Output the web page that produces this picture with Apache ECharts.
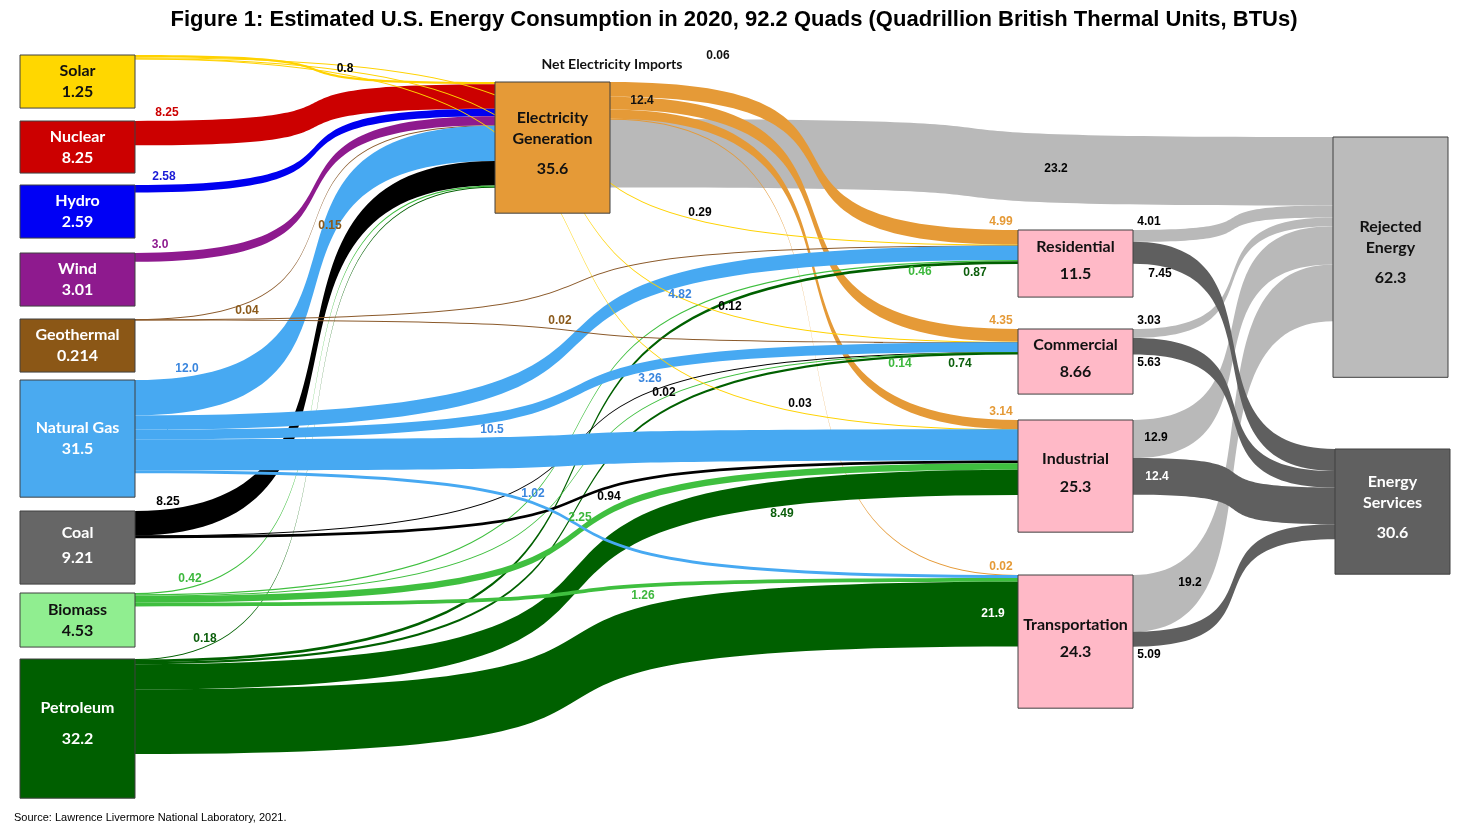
<!DOCTYPE html>
<html><head><meta charset="utf-8">
<script src="https://cdn.jsdelivr.net/npm/echarts@6/dist/echarts.min.js"></script>
<style>html,body{margin:0;padding:0;background:#fff}#c{width:1468px;height:830px}</style>
</head><body><div id="c"></div>
<script>
// ---------------- data (quads) ----------------
const sources = ['Solar','Nuclear','Hydro','Wind','Geothermal','Natural Gas','Coal','Biomass','Petroleum'];
const sourceTotals = [1.25, 8.25, 2.59, 3.01, 0.214, 31.5, 9.21, 4.53, 32.2];
const sectors = ['Residential','Commercial','Industrial','Transportation'];
const sectorTotals = [11.5, 8.66, 25.3, 24.3];
const electricityTotal = 35.6;
const rejectedTotal = 62.3;
const servicesTotal = 30.6;
const netElectricityImports = 0.06;
const electricityDelivered = 12.4;
// source -> electricity generation (same order as sources)
const toElectricity = [0.8, 8.25, 2.58, 3.0, 0.15, 12.0, 8.25, 0.42, 0.18];
// source -> end-use sectors (same order as sources), null = no flow
const toResidential    = [0.29, null, null, null, 0.04, 4.82, null, 0.46, 0.87];
const toCommercial     = [0.12, null, null, null, 0.02, 3.26, 0.02, 0.14, 0.74];
const toIndustrial     = [0.03, null, null, null, null, 10.5, 0.94, 2.25, 8.49];
const toTransportation = [null, null, null, null, null, 1.02, null, 1.26, 21.9];
// electricity generation -> sectors, and -> rejected
const electricityToSectors = [4.99, 4.35, 3.14, 0.02];
const electricityRejected = 23.2;
// sectors -> rejected energy / energy services
const sectorRejected = [4.01, 3.03, 12.9, 19.2];
const sectorServices = [7.45, 5.63, 12.4, 5.09];

// ---------------- layout & style (not data) ----------------
const ELEC = 'Electricity Generation', REJ = 'Rejected Energy', SERV = 'Energy Services';
const TOP = 55, H = 743, LEFT = 20, W = 1430, NODE_W = 115, KY = 2.95, CURV = 0.8;
// box top / height in px
const BOX = {
  'Solar':[55,53], 'Nuclear':[121,52], 'Hydro':[185,53], 'Wind':[253,53], 'Geothermal':[319,53],
  'Natural Gas':[380,117], 'Coal':[511,73], 'Biomass':[593,54], 'Petroleum':[659,139],
  [ELEC]:[82,131],
  'Residential':[230,67], 'Commercial':[329,65], 'Industrial':[420,112], 'Transportation':[575,133],
  [REJ]:[137,240], [SERV]:[449,125]
};
const COL_X = {elec:495, sector:1018};
const SINK_X = {[REJ]:1333, [SERV]:1335};
const kx = (W - NODE_W) / 3;
const STYLE = {
  'Solar':      {fill:'#FFD700', text:'#111', link:'#FFD200', lab:'#000000'},
  'Nuclear':    {fill:'#CC0000', text:'#fff', link:'#CC0000', lab:'#CC0000'},
  'Hydro':      {fill:'#0000F5', text:'#fff', link:'#0000F0', lab:'#1A1AD6'},
  'Wind':       {fill:'#8E1A8E', text:'#fff', link:'#8E1A8E', lab:'#8E1A8E'},
  'Geothermal': {fill:'#8B5716', text:'#fff', link:'#8B5A2B', lab:'#8B5A1B'},
  'Natural Gas':{fill:'#4AAAF0', text:'#fff', link:'#47A9F2', lab:'#3A86DE'},
  'Coal':       {fill:'#666666', text:'#fff', link:'#000000', lab:'#000000'},
  'Biomass':    {fill:'#90EE90', text:'#111', link:'#3FBF3F', lab:'#3DB83D'},
  'Petroleum':  {fill:'#005F00', text:'#fff', link:'#006000', lab:'#0B5E0B'},
  [ELEC]:       {fill:'#E59A37', text:'#111', link:'#E59A37', lab:'#E59A37'},
  'Residential':{fill:'#FFB9C7', text:'#111'}, 'Commercial':{fill:'#FFB9C7', text:'#111'},
  'Industrial': {fill:'#FFB9C7', text:'#111'}, 'Transportation':{fill:'#FFB9C7', text:'#111'},
  [REJ]:        {fill:'#BBBBBB', text:'#111'},
  [SERV]:       {fill:'#606060', text:'#fff'}
};
const REJ_LINK = '#B9B9B9', SERV_LINK = '#5F5F5F';
const DISPLAY = {[ELEC]:'Electricity\nGeneration', [REJ]:'Rejected\nEnergy', [SERV]:'Energy\nServices'};
const VALUE_LINE = {[ELEC]:39, [REJ]:39, [SERV]:39, 'Petroleum':41, 'Coal':29,
  'Residential':34, 'Commercial':34, 'Industrial':34, 'Transportation':34};
// where each flow label sits: x along the flow, and side of the band
const LABEL_AT = {
  'Solar>Electricity Generation':[345,'above'], 'Nuclear>Electricity Generation':[167,'above'],
  'Hydro>Electricity Generation':[164,'above'], 'Wind>Electricity Generation':[160,'above'],
  'Geothermal>Electricity Generation':[314,'right'], 'Natural Gas>Electricity Generation':[187,'above'],
  'Coal>Electricity Generation':[168,'above'], 'Biomass>Electricity Generation':[190,'above'],
  'Petroleum>Electricity Generation':[205,'above'],
  'Solar>Residential':[700,'above'], 'Geothermal>Residential':[247,'above'], 'Natural Gas>Residential':[680,'below'],
  'Biomass>Residential':[920,'below'], 'Petroleum>Residential':[975,'below'],
  'Solar>Commercial':[730,'above'], 'Geothermal>Commercial':[560,'above'], 'Natural Gas>Commercial':[650,'below'],
  'Coal>Commercial':[648,'right'], 'Biomass>Commercial':[900,'below'], 'Petroleum>Commercial':[960,'below'],
  'Solar>Industrial':[800,'above'], 'Natural Gas>Industrial':[492,'above'], 'Coal>Industrial':[609,'below'],
  'Biomass>Industrial':[598,'left'], 'Petroleum>Industrial':[782,'below'],
  'Natural Gas>Transportation':[533,'above'], 'Biomass>Transportation':[643,'below'], 'Petroleum>Transportation':[993,'inside'],
  'Electricity Generation>Residential':[1001,'above'], 'Electricity Generation>Commercial':[1001,'above'],
  'Electricity Generation>Industrial':[1001,'above'], 'Electricity Generation>Transportation':[1001,'above'],
  'Electricity Generation>Rejected Energy':[1056,'inside'],
  'Residential>Rejected Energy':[1149,'above'], 'Commercial>Rejected Energy':[1149,'above'],
  'Industrial>Rejected Energy':[1156,'inside'], 'Transportation>Rejected Energy':[1190,'inside'],
  'Residential>Energy Services':[1160,'below'], 'Commercial>Energy Services':[1149,'below'],
  'Industrial>Energy Services':[1157,'inside'], 'Transportation>Energy Services':[1149,'below']
};

const fmt = v => (Number.isInteger(v) ? v.toFixed(1) : String(v));
const totals = {};
sources.forEach((s,i)=>totals[s]=sourceTotals[i]);
sectors.forEach((s,i)=>totals[s]=sectorTotals[i]);
totals[ELEC]=electricityTotal; totals[REJ]=rejectedTotal; totals[SERV]=servicesTotal;

const depthOf = {};
function makeNode(name, depth) {
  const st = STYLE[name];
  depthOf[name] = depth;
  const item = {
    name, depth,
    value: BOX[name][1] / KY,
    localY: (BOX[name][0] - TOP) / H,
    itemStyle: {color: st.fill},
    label: {color: st.text}
  };
  if (SINK_X[name] != null) item.localX = (SINK_X[name] - LEFT) / W;
  return item;
}
const nodeX = name => SINK_X[name] != null ? SINK_X[name] : LEFT + depthOf[name] * kx;
const dElec = (COL_X.elec - LEFT) / kx, dSector = (COL_X.sector - LEFT) / kx;
const nodes = [];
sources.forEach(s => nodes.push(makeNode(s, 0)));
nodes.push(makeNode(ELEC, dElec));
sectors.forEach(s => nodes.push(makeNode(s, dSector)));
// sinks share the sector grouping so that link stacking follows the reference
nodes.push(makeNode(REJ, dSector));
nodes.push(makeNode(SERV, dSector));

function link(source, target, value, color, labColor) {
  return {source, target, value,
    lineStyle: {color, opacity: 1},
    edgeLabel: {color: labColor}};
}
const links = [];
links.push(link(ELEC, REJ, electricityRejected, REJ_LINK, '#000'));
sectors.forEach((s,i)=>links.push(link(ELEC, s, electricityToSectors[i], STYLE[ELEC].link, STYLE[ELEC].lab)));
sources.forEach((s,i)=>links.push(link(s, ELEC, toElectricity[i], STYLE[s].link, STYLE[s].lab)));
[toResidential, toCommercial, toIndustrial, toTransportation].forEach((arr, k) => {
  sources.forEach((s,i)=>{ if (arr[i] != null) {
    const white = (s === 'Petroleum' && sectors[k] === 'Transportation');
    links.push(link(s, sectors[k], arr[i], STYLE[s].link, white ? '#fff' : STYLE[s].lab));
  }});
});
sectors.forEach((s,i)=>links.push(link(s, REJ, sectorRejected[i], REJ_LINK, '#000')));
sectors.forEach((s,i)=>links.push(link(s, SERV, sectorServices[i], SERV_LINK, s === 'Industrial' ? '#fff' : '#000')));

const valueRich = {};
[21,29,34,39,41].forEach(l => valueRich['v'+l] = {fontFamily:'Lato', fontWeight:'bold', fontSize:16, lineHeight:l});

const chart = echarts.init(document.getElementById('c'), null, {renderer:'canvas'});
const option = {
  animation: false,
  backgroundColor: '#fff',
  title: [{
    text: 'Figure 1: Estimated U.S. Energy Consumption in 2020, 92.2 Quads (Quadrillion British Thermal Units, BTUs)',
    left: 'center', top: 4,
    textStyle: {fontFamily: 'Liberation Sans', fontWeight: 'bold', fontSize: 22, color: '#000'}
  }, {
    text: 'Source: Lawrence Livermore National Laboratory, 2021.',
    left: 9, top: 807,
    textStyle: {fontFamily: 'Liberation Sans', fontWeight: 'normal', fontSize: 11, color: '#000'}
  }],
  graphic: [
    {type:'text', z: 100, x: 612, y: 64, style:{text:'Net Electricity Imports', font:'bold 14px Lato', fill:'#111', align:'center', verticalAlign:'middle'}},
    {type:'text', z: 100, x: 718, y: 56, style:{text: fmt(netElectricityImports), font:'bold 12px "Liberation Sans"', fill:'#111', align:'center', verticalAlign:'middle'}},
    {type:'text', z: 100, x: 642, y: 101, style:{text: fmt(electricityDelivered), font:'bold 12px "Liberation Sans"', fill:'#111', align:'center', verticalAlign:'middle'}}
  ],
  series: [{
    type: 'sankey',
    left: LEFT, top: TOP, width: W, height: H,
    nodeWidth: NODE_W, nodeGap: 0, nodeAlign: 'left', layoutIterations: 0,
    draggable: false,
    emphasis: {disabled: true},
    data: nodes, links: links,
    itemStyle: {borderColor: '#404040', borderWidth: 1},
    lineStyle: {opacity: 1, curveness: CURV},
    label: {
      show: true, position: 'inside',
      formatter: p => {
        const nm = (DISPLAY[p.name] || p.name).split('\n').map(t => `{n|${t}}`).join('\n');
        const vs = VALUE_LINE[p.name] ? 'v' + VALUE_LINE[p.name] : 'v21';
        return `${nm}\n{${vs}|${fmt(totals[p.name])}}`;
      },
      rich: Object.assign({n: {fontFamily:'Lato', fontWeight:'bold', fontSize:16, lineHeight:21}}, valueRich)
    },
    edgeLabel: {
      show: true, fontFamily: 'Liberation Sans', fontWeight: 'bold', fontSize: 12,
      formatter: p => fmt(p.value)
    }
  }]
};
chart.setOption(option);

// place each flow label along its own band, using the layout the library computed
try {
  const graph = chart.getModel().getSeriesByIndex(0).getGraph();
  links.forEach((lk, i) => {
    const spec = LABEL_AT[lk.source + '>' + lk.target];
    if (!spec) return;
    const el = graph.getEdgeByIndex(i).getLayout();
    const ext = Math.max(1, el.dy);
    const x1 = nodeX(lk.source) + NODE_W, y1 = BOX[lk.source][0] + el.sy;
    const x2 = nodeX(lk.target), y2 = BOX[lk.target][0] + el.ty;
    const cx1 = x1 * (1 - CURV) + x2 * CURV, cx2 = x1 * CURV + x2 * (1 - CURV);
    const bez = (t, a, b, c, d) => a*(1-t)**3 + 3*b*(1-t)**2*t + 3*c*(1-t)*t*t + d*t**3;
    const tx = Math.min(Math.max(spec[0], x1 + 1), x2 - 1);
    let lo = 0, hi = 1;
    for (let k = 0; k < 40; k++) { const m = (lo+hi)/2; if (bez(m, x1, cx1, cx2, x2) < tx) lo = m; else hi = m; }
    const top = bez(lo, y1, y1, y2, y2);
    let px = tx, py;
    if (spec[1] === 'above') py = top - 8;
    else if (spec[1] === 'below') py = top + ext + 8;
    else if (spec[1] === 'right') { px = tx + 16; py = top + ext / 2; }
    else if (spec[1] === 'left') { px = tx - 18; py = top + ext / 2; }
    else py = top + ext / 2;
    const ccx = (x1 + x2) / 2, ccy = (Math.min(y1, y2) + Math.max(y1, y2) + ext) / 2;
    lk.edgeLabel.offset = [px - ccx, py - ccy];
  });
  chart.setOption({series: [{links: links}]});
} catch (e) { console.error(e); }
</script>
</body></html>
